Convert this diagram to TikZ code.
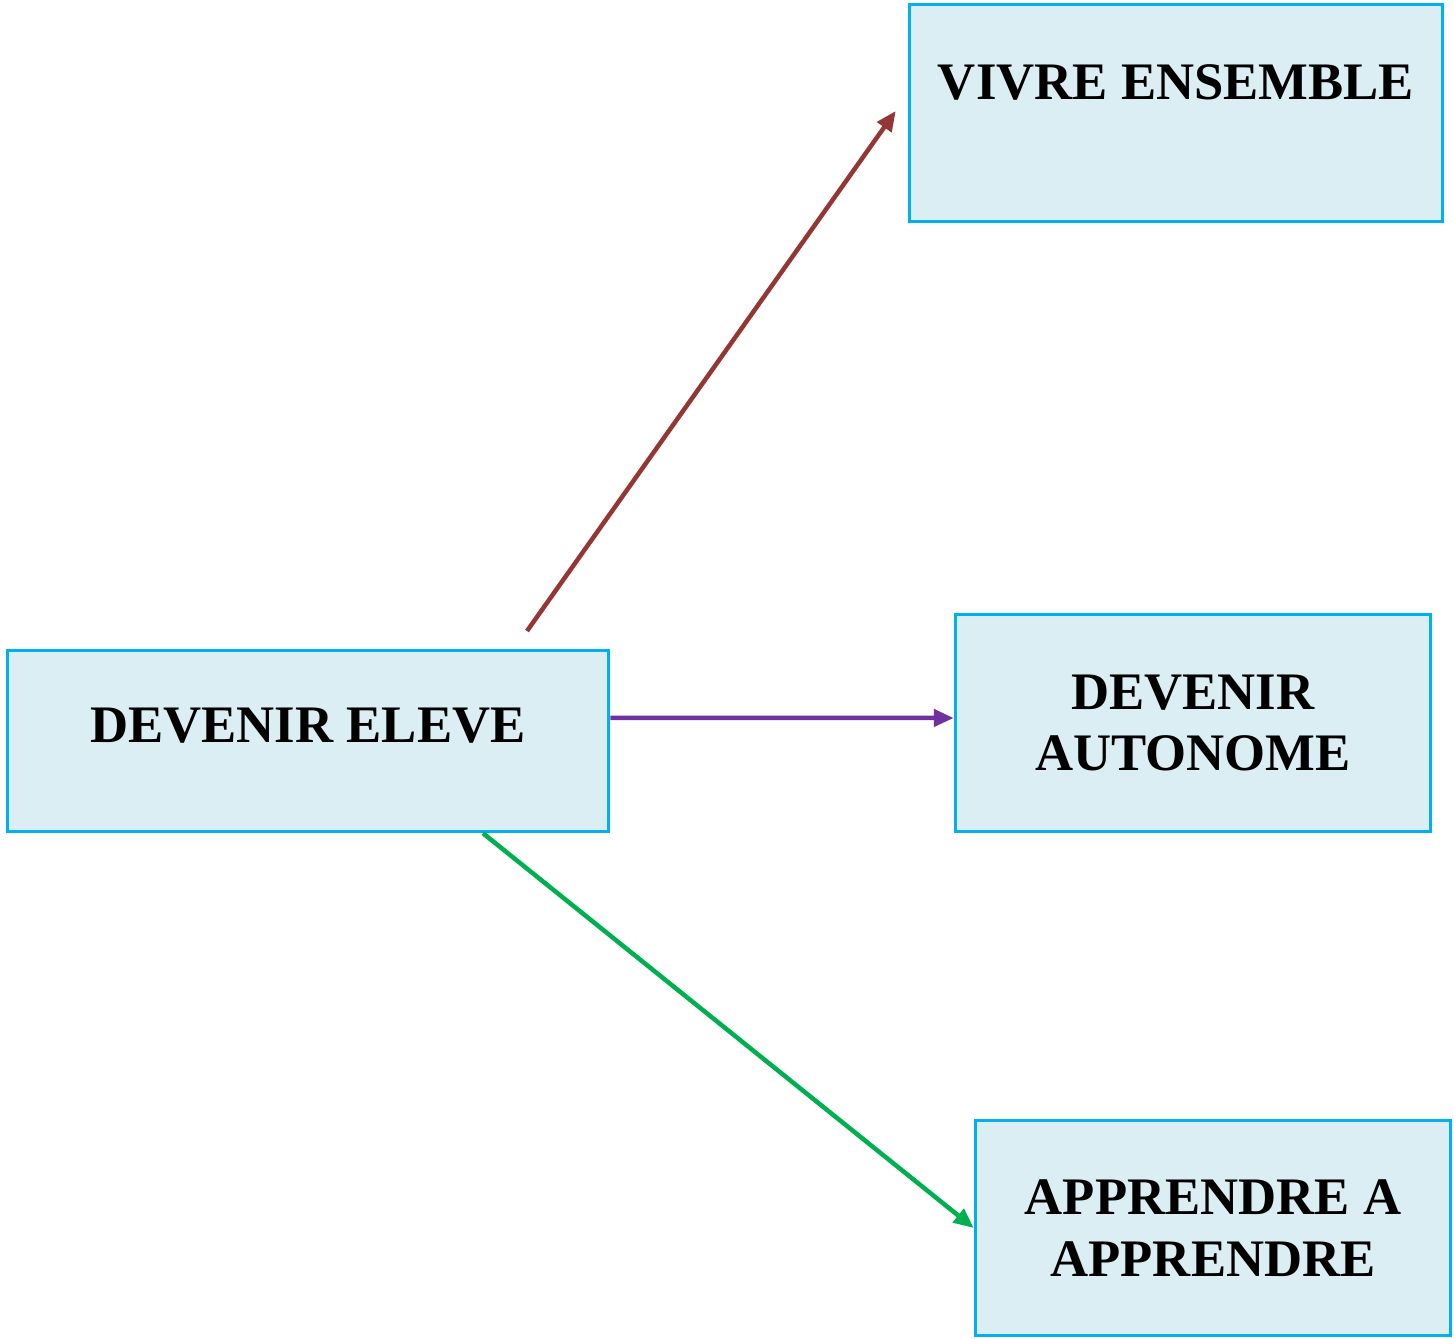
\documentclass[tikz,border=0pt]{standalone}
\usepackage{fontspec}
\setmainfont{Liberation Serif}
\usetikzlibrary{arrows.meta}
\definecolor{boxline}{HTML}{00B0F0}
\definecolor{boxfill}{HTML}{DBEEF3}
\definecolor{arrowred}{HTML}{943634}
\definecolor{arrowpurple}{HTML}{7030A0}
\definecolor{arrowgreen}{HTML}{00B050}
\begin{document}
\begin{tikzpicture}[
  every node/.style={rectangle, draw=boxline, line width=0.035cm, fill=boxfill, inner sep=0pt, align=center, font=\fontsize{15}{17.6}\selectfont\bfseries, text=black},
  every path/.style={},
  link/.style={line width=0.045cm, -{Triangle[length=0.2cm, width=0.17cm]}}
]
  \useasboundingbox (0,0) rectangle (14.54,13.39);
  \node[minimum width=5.33cm, minimum height=2.17cm] (vivre) at (11.76,12.26) {VIVRE ENSEMBLE\\~};
  \node[minimum width=6.01cm, minimum height=1.81cm] (eleve) at (3.08,5.98) {\raisebox{0.32cm}{DEVENIR ELEVE}};
  \node[minimum width=4.75cm, minimum height=2.17cm] (autonome) at (11.93,6.16) {DEVENIR\\AUTONOME};
  \node[minimum width=4.75cm, minimum height=2.15cm] (apprendre) at (12.13,1.11) {APPRENDRE A\\APPRENDRE};
  \coordinate (start) at (5.27,7.08);
  \draw[link, draw=arrowred, color=arrowred] (start) -- ([xshift=-0.12cm, yshift=0.02cm]vivre.west);
  \draw[link, draw=arrowpurple, color=arrowpurple] ([yshift=0.23cm]eleve.east) -- ([yshift=0.05cm]autonome.west);
  \draw[link, draw=arrowgreen, color=arrowgreen] ([xshift=1.75cm]eleve.south) -- (apprendre.west);
\end{tikzpicture}
\end{document}
